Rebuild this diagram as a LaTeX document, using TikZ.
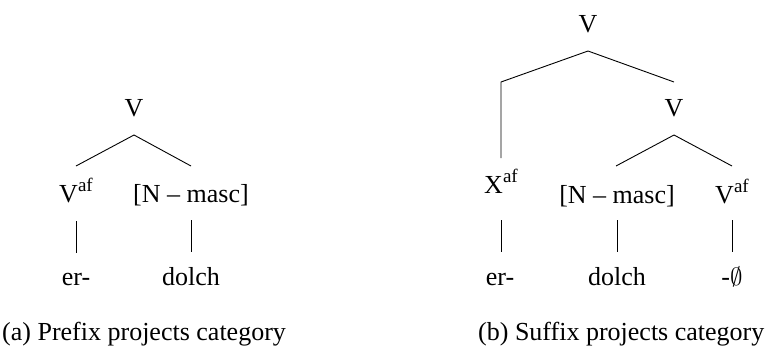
\documentclass[tikz,border=0pt]{standalone}
\usepackage{fontspec}
\setmainfont{Liberation Serif}
\newcommand\supaf{\raisebox{0.4em}{\fontsize{19}{20}\selectfont af}}
\begin{document}
\begin{tikzpicture}[x=1pt,y=-1pt,
  lbl/.style={anchor=base, inner sep=0pt, font=\fontsize{26}{30}\selectfont},
  captext/.style={anchor=base west, inner sep=0pt, font=\fontsize{26}{30}\selectfont},
  br/.style={line width=0.9pt}]
\useasboundingbox (0,0) rectangle (765,346);
% ---- tree (a)
\node[lbl] (aV) at (134,116) {V};
\node[lbl] (aVaf) at (76,202) {V\supaf};
\node[lbl] (aN) at (191,202) {[N – masc]};
\node[lbl] (aer) at (76,285) {er-};
\node[lbl] (adolch) at (191,285) {dolch};
\coordinate (aVb) at (134,135);
\coordinate (aVaft) at (76,166);
\coordinate (aNt) at (191,166);
\coordinate (aVafb) at (76,221);
\coordinate (aert) at (76,253);
\coordinate (aNb) at (191,220);
\coordinate (adolcht) at (191,252);
\draw[br] (aVaft) -- (aVb) -- (aNt);
\draw[br] (aVafb) -- (aert);
\draw[br] (aNb) -- (adolcht);
\node[captext] (acap) at (2,340) {(a) Prefix projects category};
% ---- tree (b)
\node[lbl] (bV) at (588,32) {V};
\node[lbl] (bV2) at (674,116) {V};
\node[lbl] (bX) at (501,193) {X\supaf};
\node[lbl] (bN) at (617,203) {[N – masc]};
\node[lbl] (bVaf) at (732,203) {V\supaf};
\node[lbl] (ber) at (500,285) {er-};
\node[lbl] (bdolch) at (617,285) {dolch};
\node[lbl] (bnull) at (732,285) {-$\emptyset$};
\coordinate (bVb) at (588,51);
\coordinate (bL) at (501,82);
\coordinate (bXt) at (501,158);
\coordinate (bV2t) at (674,82);
\coordinate (bV2b) at (674,135);
\coordinate (bNt) at (616,166);
\coordinate (bVaft) at (732,166);
\coordinate (bXb) at (501,220);
\coordinate (bert) at (501,252);
\coordinate (bNb) at (617,220);
\coordinate (bdolcht) at (617,252);
\coordinate (bVafb) at (732,220);
\coordinate (bnullt) at (732,252);
\draw[br] (bXt) -- (bL) -- (bVb) -- (bV2t);
\draw[br] (bNt) -- (bV2b) -- (bVaft);
\draw[br] (bXb) -- (bert);
\draw[br] (bNb) -- (bdolcht);
\draw[br] (bVafb) -- (bnullt);
\node[captext] (bcap) at (478,340) {(b) Suffix projects category};
\end{tikzpicture}
\end{document}
